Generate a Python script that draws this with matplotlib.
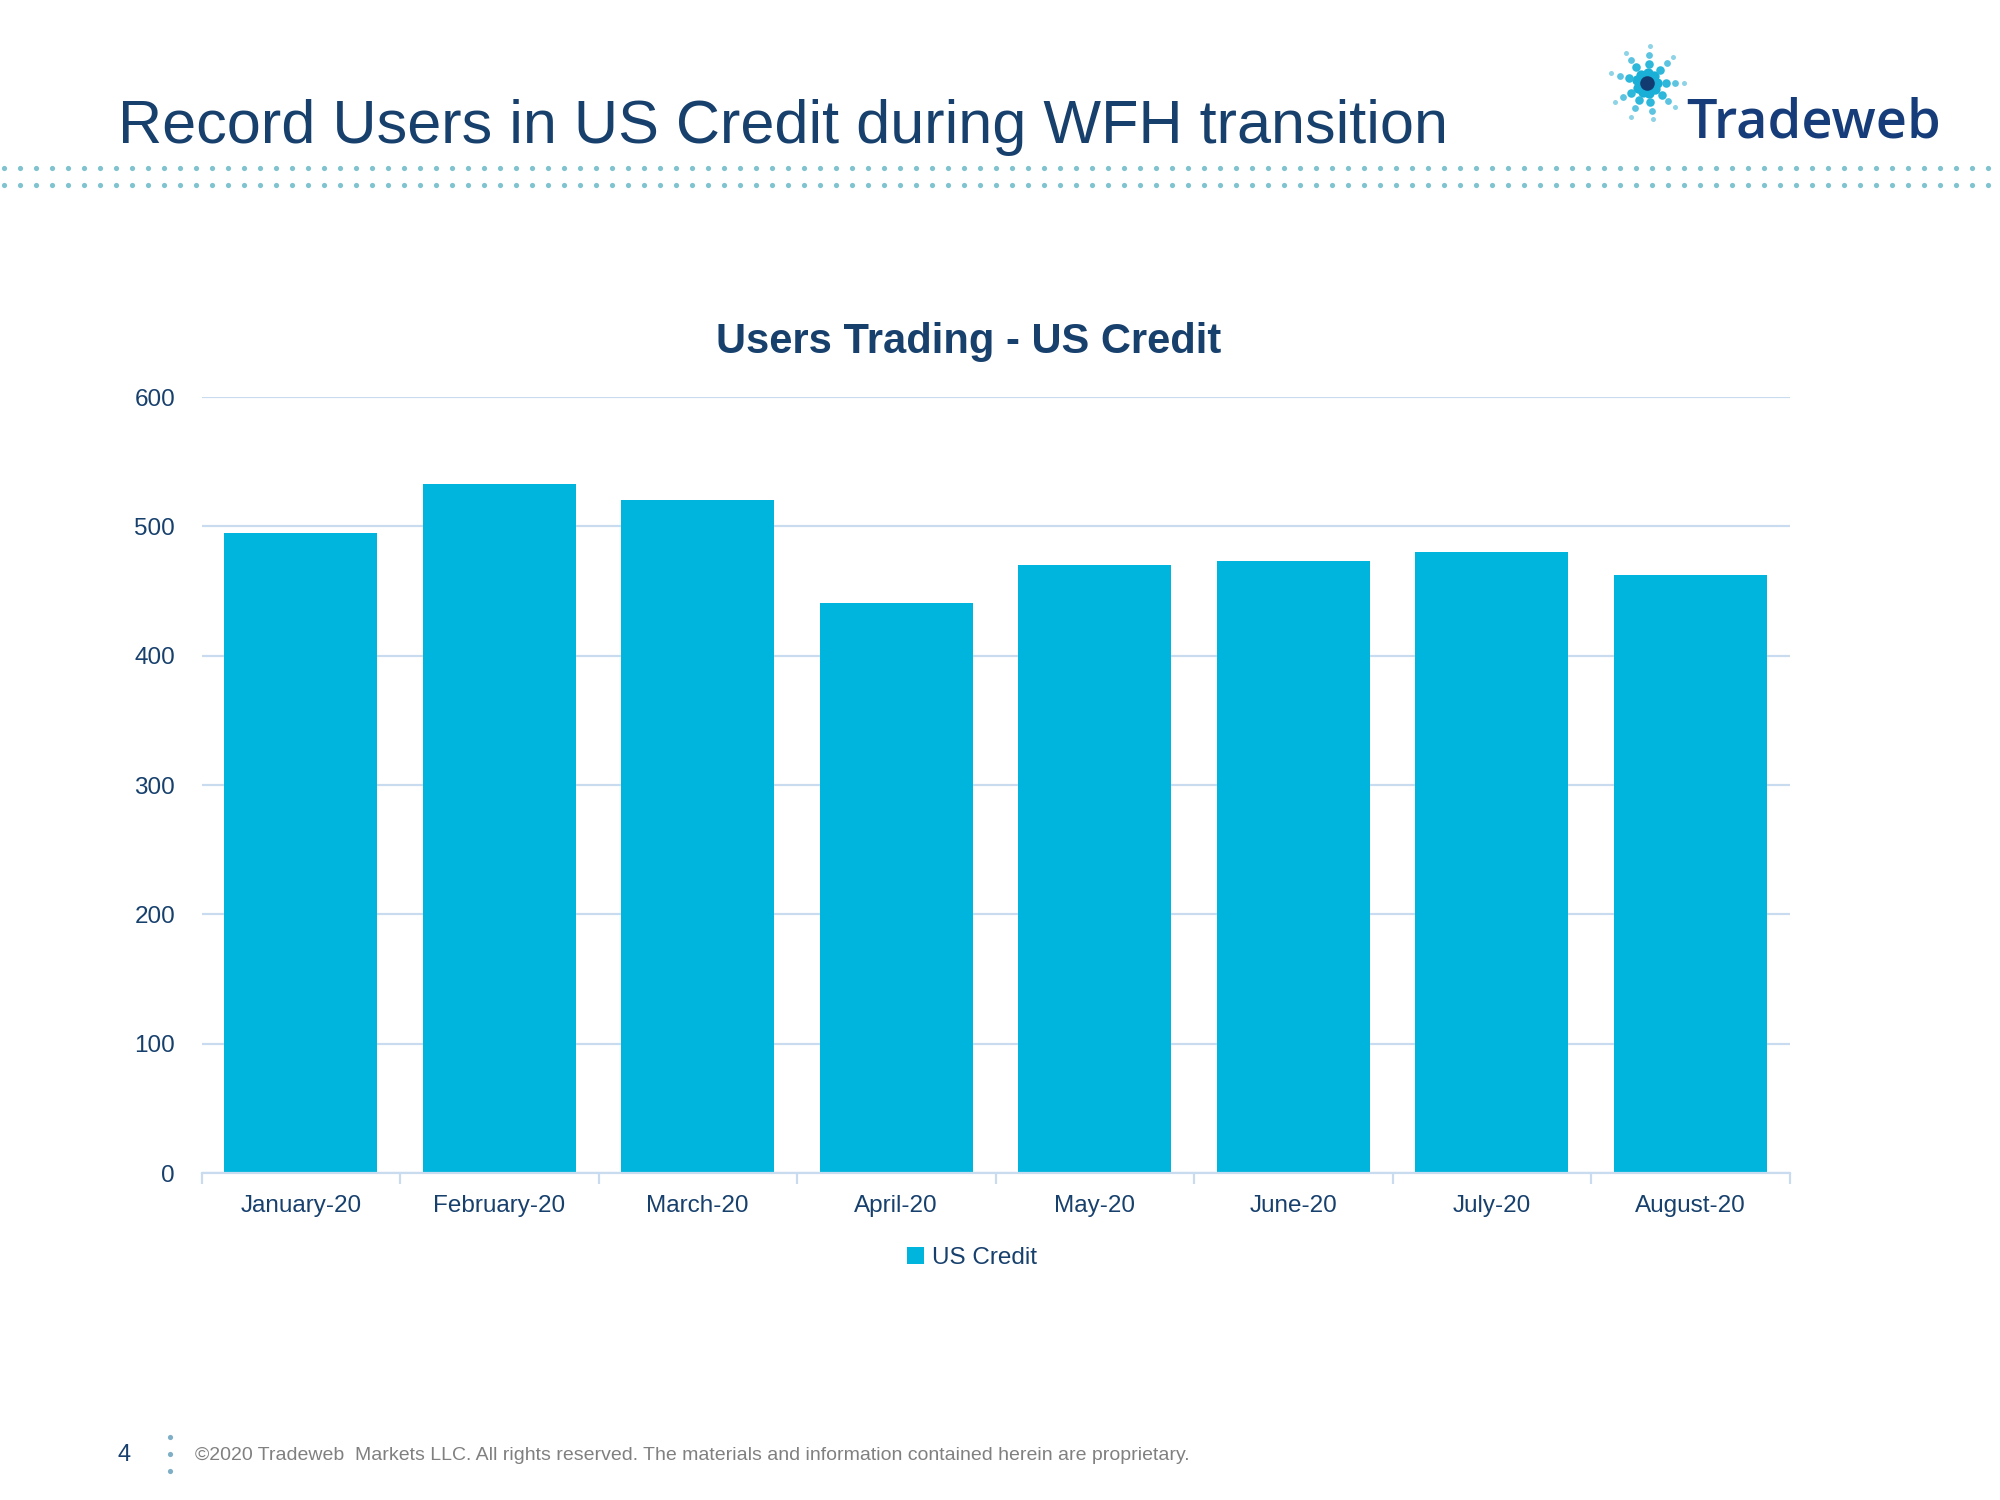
import numpy as np
import matplotlib
matplotlib.use("Agg")
import matplotlib.pyplot as plt

# ---- data ----
months = ["January-20", "February-20", "March-20", "April-20",
          "May-20", "June-20", "July-20", "August-20"]
us_credit = [495, 533, 520, 441, 470, 473, 480, 462]
y_ticks = [0, 100, 200, 300, 400, 500, 600]
series_name = "US Credit"

NAVY = "#17406D"
BAR = "#00B5DD"
GRID = "#C9DBEF"
DOT = "#7FC3CF"

plt.rcParams["font.family"] = ["Liberation Sans", "DejaVu Sans"]

fig = plt.figure(figsize=(20, 15), dpi=100)
W, H = 2000, 1500

def fx(px):
    return px / W

def fy(py):
    return 1 - py / H

# ---- chart axes ----
ax = fig.add_axes([fx(201.5), fy(1173), fx(1789.5) - fx(201.5), fy(397) - fy(1173)])
x = np.arange(len(months))
ax.bar(x, us_credit, width=0.77, color=BAR, label=series_name, zorder=2)
ax.set_xlim(-0.5, len(months) - 0.5)
ax.set_ylim(0, 600)
ax.set_yticks(y_ticks)
ax.set_yticklabels([str(v) for v in y_ticks])
ax.yaxis.grid(True, color=GRID, linewidth=1.6, zorder=0)
ax.set_axisbelow(True)
for s in ["top", "right", "left"]:
    ax.spines[s].set_visible(False)
ax.spines["bottom"].set_color(GRID)
ax.spines["bottom"].set_linewidth(1.6)
ax.set_xticks(x)
ax.set_xticklabels(months)
ax.set_xticks(np.arange(len(months) + 1) - 0.5, minor=True)
ax.tick_params(axis="x", which="major", length=0, pad=16, labelsize=17.5, labelcolor=NAVY)
ax.tick_params(axis="x", which="minor", length=8, width=1.6, color=GRID, direction="out")
ax.tick_params(axis="y", length=0, pad=19, labelsize=17.5, labelcolor=NAVY)

leg = fig.legend(handles=[ax.patches[0]], labels=[series_name], loc="center",
                 bbox_to_anchor=(fx(972), fy(1258)), frameon=False, fontsize=17.5,
                 handlelength=0.7, handleheight=0.7, handletextpad=0.3)
for t in leg.get_texts():
    t.set_color(NAVY)

# ---- titles ----
fig.text(fx(969), fy(342), "Users Trading - US Credit", ha="center", va="center",
         fontsize=30, fontweight="bold", color=NAVY)
fig.text(fx(118), fy(128), "Record Users in US Credit during WFH transition",
         ha="left", va="center", fontsize=44, color=NAVY)

# ---- decorations (dotted rule, logo, footer) ----
deco = fig.add_axes([0, 0, 1, 1], facecolor="none")
deco.set_xlim(0, W)
deco.set_ylim(H, 0)
deco.axis("off")
xs = np.arange(4, W, 16.0)
deco.scatter(xs, np.full_like(xs, 168), s=14, color=DOT, linewidths=0)
deco.scatter(xs, np.full_like(xs, 185), s=14, color=DOT, linewidths=0)

# logo starburst
cx, cy = 1647, 83
angles = np.deg2rad([-85, -45, 0, 40, 80, 115, 150, 195, 235])
for a in angles:
    for k, (r, s) in enumerate([(10, 55), (19, 38), (28, 24), (37, 13)]):
        deco.scatter(cx + r * np.cos(a), cy + r * np.sin(a), s=s,
                     color=["#1AAFD6", "#2DB7DA", "#5CC4E0", "#8FD3E7"][k], linewidths=0)
deco.scatter(cx, cy, s=110, color="#123B72", linewidths=0, zorder=3)
fig.text(fx(1686), fy(137), "Tradeweb", ha="left", va="baseline", fontsize=39,
         color="#163D7A", fontweight="semibold", family=["Open Sans", "DejaVu Sans"])

# footer
fig.text(fx(124), fy(1455), "4", ha="center", va="center", fontsize=17, color=NAVY)
for yy in (1437, 1454, 1471):
    deco.scatter(170, yy, s=14, color="#7FAFC6", linewidths=0)
fig.text(fx(195), fy(1455),
         "\u00a92020 Tradeweb  Markets LLC. All rights reserved. The materials and information contained herein are proprietary.",
         ha="left", va="center", fontsize=14, color="#808080")

fig.savefig("out.png", dpi=100)
